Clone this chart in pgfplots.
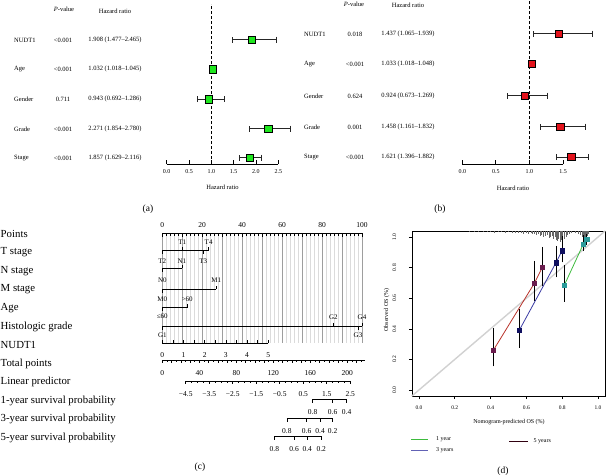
\documentclass[border=0pt]{standalone}
\usepackage{pgfplots}
\pgfplotsset{compat=1.18}
\usepackage{fontspec}
\setmainfont{Liberation Serif}
\newcommand{\fs}[1]{\fontsize{#1}{#1}\selectfont}
\definecolor{fgreen}{HTML}{1FE61F}
\definecolor{fred}{HTML}{E3121B}
\definecolor{cfive}{HTML}{B8322A}
\definecolor{cfivept}{HTML}{6A1D4E}
\definecolor{cthree}{HTML}{3B3BA3}
\definecolor{cthreept}{HTML}{101060}
\definecolor{cone}{HTML}{3DBB3D}
\definecolor{conept}{HTML}{2A9A9A}
\pgfplotsset{
  forest/.style={anchor=south west, scale only axis, height=164pt, ymin=-164, ymax=0,
    axis x line=bottom, axis y line=none, x axis line style={-, line width=0.8pt},
    tick align=inside, major tick length=4pt, every tick/.style={black, line width=0.8pt},
    xticklabel style={font=\fs{6}}, xticklabel shift=2pt,
    /pgf/number format/fixed, /pgf/number format/fixed zerofill, /pgf/number format/precision=1,
    /pgf/number format/assume math mode=true, clip=false},
  fbars/.style={error bars/.cd, x dir=both, x explicit, error bar style={black!85, line width=0.8pt},
    error mark options={black!85, line width=0.8pt, mark size=3pt, rotate=90}},
}
\newcommand{\tk}[3]{\draw[black, line width=0.6pt] (axis cs:{#1},#2) -- (axis cs:{#1},#3);}
\begin{document}
\begin{tikzpicture}
\useasboundingbox (0pt,0pt) rectangle (606pt,-475pt);
% ---------------- (a) texts
\begin{scope}[every node/.style={inner sep=0pt, font=\fs{6.5}}]
\node at (64pt,-9pt) {\textit{P}-value};
\node at (115pt,-11pt) {Hazard ratio};
\foreach \y/\n/\p/\h in {40/NUDT1/{<0.001}/{1.908 (1.477–2.465)},
  69/Age/{<0.001}/{1.032 (1.018–1.045)},
  99/Gender/{0.711}/{0.943 (0.692–1.286)},
  129/Grade/{<0.001}/{2.271 (1.854–2.780)},
  158/Stage/{<0.001}/{1.857 (1.629–2.116)}}{
  \node[anchor=west] at (14pt,-\y pt) {\n};
  \node at (63pt,-\y pt) {\p};
  \node at (115pt,-\y pt) {\h};
}
\node at (222.5pt,-187pt) {Hazard ratio};
% (b) texts
\node at (354pt,-4pt) {\textit{P}-value};
\node at (408pt,-5pt) {Hazard ratio};
\foreach \y/\n/\p/\h in {34/NUDT1/{0.018}/{1.437 (1.065–1.939)},
  64/Age/{<0.001}/{1.033 (1.018–1.048)},
  96/Gender/{0.624}/{0.924 (0.673–1.269)},
  127/Grade/{0.001}/{1.458 (1.161–1.832)},
  157/Stage/{<0.001}/{1.621 (1.396–1.882)}}{
  \node[anchor=west] at (304pt,-\y pt) {\n};
  \node at (355pt,-\y pt) {\p};
  \node at (408pt,-\y pt) {\h};
}
\node at (513pt,-188pt) {Hazard ratio};
\end{scope}
% panel labels
\begin{scope}[every node/.style={inner sep=0pt, font=\fs{9.5}}]
\node at (148pt,-209pt) {(a)};
\node at (440pt,-209pt) {(b)};
\node at (200pt,-467pt) {(c)};
\node at (503pt,-471pt) {(d)};
\end{scope}
% ---------------- (a) forest
\begin{axis}[forest, at={(166.7pt,-164pt)}, width=111.6pt, xmin=0, xmax=2.5, xtick={0,0.5,1,1.5,2,2.5}]
\addplot[black, line width=0.9pt, dash pattern=on 3pt off 2pt] coordinates {(1,-164) (1,-4)};
\addplot[only marks, mark=square*, mark size=3.7pt, mark options={fill=fgreen, draw=none}, fbars]
 coordinates {(1.908,-39.5) += (0.557,0) -= (0.431,0) (1.032,-69) += (0.013,0) -= (0.014,0)
  (0.943,-99) += (0.343,0) -= (0.251,0) (2.271,-128.5) += (0.509,0) -= (0.417,0)
  (1.857,-157.5) += (0.259,0) -= (0.228,0)};
\addplot[only marks, mark=square*, mark size=3.7pt, mark options={fill=fgreen, draw=none}]
 coordinates {(1.908,-39.5) (1.032,-69) (0.943,-99) (2.271,-128.5) (1.857,-157.5)};
\end{axis}
% ---------------- (b) forest
\begin{axis}[forest, at={(462.3pt,-164pt)}, width=100.7pt, xmin=0, xmax=1.5, xtick={0,0.5,1,1.5}]
\addplot[black, line width=0.9pt, dash pattern=on 3pt off 2pt] coordinates {(1,-164) (1,0)};
\addplot[only marks, mark=square*, mark size=3.6pt, mark options={fill=fred, draw=none}, fbars]
 coordinates {(1.437,-33.5) += (0.502,0) -= (0.372,0) (1.033,-63.5) += (0.015,0) -= (0.015,0)
  (0.924,-95.5) += (0.345,0) -= (0.251,0) (1.458,-126.5) += (0.374,0) -= (0.297,0)
  (1.621,-157) += (0.261,0) -= (0.225,0)};
\addplot[only marks, mark=square*, mark size=3.6pt, mark options={fill=fred, draw=none}]
 coordinates {(1.437,-33.5) (1.033,-63.5) (0.924,-95.5) (1.458,-126.5) (1.621,-157)};
\end{axis}
% ---------------- (c) nomogram row labels
\begin{scope}[every node/.style={inner sep=0pt, font=\fs{10.8}, anchor=west}]
\foreach \y/\t in {234/Points, 252.5/T stage, 271/N stage, 289.5/M stage, 308/Age,
  326.5/Histologic grade, 345/NUDT1, 363.5/Total points, 382/Linear predictor,
  400.5/1-year survival probability, 419/3-year survival probability, 437.5/5-year survival probability}{
  \node at (0.5pt,-\y pt) {\t};
}
\end{scope}
\begin{axis}[at={(162.3pt,-460pt)}, anchor=south west, scale only axis, width=199.7pt, height=245pt,
  xmin=0, xmax=100, ymin=-460, ymax=-215, hide axis, clip=false]
\pgfplotsinvokeforeach{0,2,...,100}{\draw[black!14, line width=0.6pt] (axis cs:#1,-233) -- (axis cs:#1,-343);}
\pgfplotsinvokeforeach{0,10,...,100}{\draw[black!38, line width=0.6pt] (axis cs:#1,-233) -- (axis cs:#1,-343);}
% Points
\addplot[black, line width=0.8pt] coordinates {(0,-233) (100,-233)};
\pgfplotsinvokeforeach{0,2,...,100}{\tk{#1}{-233}{-235.5}}
\pgfplotsinvokeforeach{0,10,...,100}{\tk{#1}{-233}{-237}}
\pgfplotsinvokeforeach{0,20,...,100}{\node[font=\fs{7.5}, inner sep=0pt] at (axis cs:#1,-225) {#1};}
% T stage
\addplot[black, line width=0.8pt] coordinates {(0,-250) (23.2,-250)};
\tk{10}{-250}{-246.5}\tk{23.2}{-250}{-246.5}\tk{0}{-250}{-253.5}\tk{20.5}{-250}{-253.5}
% N stage
\addplot[black, line width=0.8pt] coordinates {(0,-268) (9.8,-268)};
\tk{9.8}{-268}{-264.5}\tk{0}{-268}{-271.5}
% M stage
\addplot[black, line width=0.8pt] coordinates {(0,-289) (27,-289)};
\tk{27}{-289}{-285.5}\tk{0}{-289}{-292.5}
% Age
\addplot[black, line width=0.8pt] coordinates {(0,-307.5) (12.5,-307.5)};
\tk{12.5}{-307.5}{-304}\tk{0}{-307.5}{-311}
% Histologic grade
\addplot[black, line width=0.8pt] coordinates {(0,-326) (100,-326)};
\tk{85.7}{-326}{-322.5}\tk{100}{-326}{-322.5}\tk{0}{-326}{-329.5}\tk{98}{-326}{-329.5}
\begin{scope}[every node/.style={font=\fs{7}, inner sep=0pt}]
\node at (axis cs:10,-242) {T1}; \node at (axis cs:23.2,-242) {T4};
\node at (axis cs:0,-261) {T2}; \node at (axis cs:20.5,-261) {T3};
\node at (axis cs:9.8,-261) {N1}; \node at (axis cs:0,-280) {N0};
\node at (axis cs:27,-280) {M1}; \node at (axis cs:0,-299) {M0};
\node at (axis cs:12.5,-299) {>60}; \node at (axis cs:0,-316.7) {≤60};
\node at (axis cs:85.7,-317) {G2}; \node at (axis cs:100,-317) {G4};
\node at (axis cs:0,-335) {G1}; \node at (axis cs:98,-335) {G3};
\end{scope}
% NUDT1 (0..5 -> 0..53 points)
\addplot[black, line width=0.8pt] coordinates {(0,-343) (53,-343)};
\pgfplotsinvokeforeach{0,0.5,...,5}{\tk{#1*10.6}{-343}{-339.5}}
\pgfplotsinvokeforeach{0,1,...,5}{\node[font=\fs{7.5}, inner sep=0pt] at (axis cs:{#1*10.6},-355) {#1};}
% Total points (scale 0.4632 points per total point)
\addplot[black, line width=0.8pt] coordinates {(0,-360) (101.4,-360)};
\pgfplotsinvokeforeach{0,5,...,215}{\tk{#1*0.4632}{-360}{-362}}
\pgfplotsinvokeforeach{0,10,...,210}{\tk{#1*0.4632}{-360}{-363}}
\pgfplotsinvokeforeach{0,40,...,200}{\node[font=\fs{7.5}, inner sep=0pt] at (axis cs:{#1*0.4632},-373) {#1};}
% Linear predictor: x = 11.72 + (lp+4.5)*11.77
\addplot[black, line width=0.8pt] coordinates {(11.72,-381) (94.1,-381)};
\pgfplotsinvokeforeach{-4.5,-4.25,...,2.5}{\tk{11.72+(#1+4.5)*11.77}{-381}{-383}}
\pgfplotsinvokeforeach{-4.5,-3.5,...,2.5}{\tk{11.72+(#1+4.5)*11.77}{-381}{-384}}
\begin{scope}[every node/.style={font=\fs{7.5}, inner sep=0pt}]
\node at (axis cs:11.72,-394) {−4.5}; \node at (axis cs:23.49,-394) {−3.5};
\node at (axis cs:35.26,-394) {−2.5}; \node at (axis cs:47.03,-394) {−1.5};
\node at (axis cs:58.80,-394) {−0.5}; \node at (axis cs:70.57,-394) {0.5};
\node at (axis cs:82.34,-394) {1.5}; \node at (axis cs:94.11,-394) {2.5};
% 1-year
\node at (axis cs:75.3,-412) {0.8}; \node at (axis cs:85.3,-412) {0.6}; \node at (axis cs:92.3,-412) {0.4};
% 3-year
\node at (axis cs:62.4,-431) {0.8}; \node at (axis cs:72.3,-431) {0.6}; \node at (axis cs:79.0,-431) {0.4}; \node at (axis cs:85.3,-431) {0.2};
% 5-year
\node at (axis cs:56.1,-449) {0.8}; \node at (axis cs:66.0,-449) {0.6}; \node at (axis cs:72.6,-449) {0.4}; \node at (axis cs:79.6,-449) {0.2};
\end{scope}
\addplot[black, line width=0.8pt] coordinates {(75.3,-399) (92.3,-399)};
\tk{75.3}{-399}{-402.5}\tk{85.3}{-399}{-402.5}\tk{92.3}{-399}{-402.5}
\addplot[black, line width=0.8pt] coordinates {(62.4,-418) (85.3,-418)};
\tk{62.4}{-418}{-421.5}\tk{72.3}{-418}{-421.5}\tk{79.0}{-418}{-421.5}\tk{85.3}{-418}{-421.5}
\addplot[black, line width=0.8pt] coordinates {(56.1,-436) (79.6,-436)};
\tk{56.1}{-436}{-439.5}\tk{66.0}{-436}{-439.5}\tk{72.6}{-436}{-439.5}\tk{79.6}{-436}{-439.5}
\end{axis}
% ---------------- (d) calibration
\begin{axis}[at={(411.8pt,-396.1pt)}, anchor=south west, scale only axis, width=193.4pt, height=165.2pt,
  xmin=-0.04, xmax=1.04, ymin=-0.04, ymax=1.04,
  xtick={0,0.2,0.4,0.6,0.8,1.0}, ytick={0,0.2,0.4,0.6,0.8,1.0},
  tick pos=left, tick align=outside, major tick length=3pt,
  axis line style={line width=0.6pt}, every tick/.style={black, line width=0.6pt},
  tick label style={font=\fs{5.5}},
  yticklabel style={rotate=90, anchor=south}, yticklabel shift=9pt, xticklabel shift=3pt,
  /pgf/number format/fixed, /pgf/number format/fixed zerofill, /pgf/number format/precision=1,
  /pgf/number format/assume math mode=true, clip=false, unbounded coords=jump]
\addplot[black!18, line width=1.4pt] coordinates {(-0.04,-0.04) (1.04,1.04)};
% rug of predicted values hanging from the top edge (1.04)
\addplot[black!60, line width=0.5pt] coordinates {
 (0.28,1.04) (0.28,1.033) (0.28,nan) (0.31,1.04) (0.31,1.033) (0.31,nan)
 (0.33,1.04) (0.33,1.030) (0.33,nan) (0.36,1.04) (0.36,1.033) (0.36,nan)
 (0.38,1.04) (0.38,1.030) (0.38,nan) (0.40,1.04) (0.40,1.033) (0.40,nan)
 (0.42,1.04) (0.42,1.027) (0.42,nan) (0.44,1.04) (0.44,1.030) (0.44,nan)
 (0.46,1.04) (0.46,1.033) (0.46,nan) (0.48,1.04) (0.48,1.027) (0.48,nan)
 (0.50,1.04) (0.50,1.030) (0.50,nan) (0.52,1.04) (0.52,1.027) (0.52,nan)
 (0.54,1.04) (0.54,1.027) (0.54,nan) (0.555,1.04) (0.555,1.024) (0.555,nan)
 (0.57,1.04) (0.57,1.027) (0.57,nan) (0.585,1.04) (0.585,1.020) (0.585,nan)
 (0.60,1.04) (0.60,1.024) (0.60,nan) (0.61,1.04) (0.61,1.020) (0.61,nan)
 (0.625,1.04) (0.625,1.027) (0.625,nan) (0.635,1.04) (0.635,1.017) (0.635,nan)
 (0.645,1.04) (0.645,1.020) (0.645,nan) (0.655,1.04) (0.655,1.014) (0.655,nan)
 (0.665,1.04) (0.665,1.020) (0.665,nan) (0.675,1.04) (0.675,1.007) (0.675,nan)
 (0.685,1.04) (0.685,1.014) (0.685,nan) (0.695,1.04) (0.695,1.001) (0.695,nan)
 (0.705,1.04) (0.705,1.007) (0.705,nan) (0.715,1.04) (0.715,1.014) (0.715,nan)
 (0.725,1.04) (0.725,0.994) (0.725,nan) (0.735,1.04) (0.735,1.001) (0.735,nan)
 (0.745,1.04) (0.745,1.007) (0.745,nan) (0.75,1.04) (0.75,0.988) (0.75,nan)
 (0.76,1.04) (0.76,1.001) (0.76,nan) (0.765,1.04) (0.765,0.981) (0.765,nan)
 (0.775,1.04) (0.775,0.975) (0.775,nan) (0.78,1.04) (0.78,0.988) (0.78,nan)
 (0.79,1.04) (0.79,0.968) (0.79,nan) (0.795,1.04) (0.795,0.981) (0.795,nan)
 (0.80,1.04) (0.80,0.962) (0.80,nan) (0.81,1.04) (0.81,0.988) (0.81,nan)
 (0.82,1.04) (0.82,1.001) (0.82,nan) (0.83,1.04) (0.83,1.014) (0.83,nan)
 (0.84,1.04) (0.84,1.020) (0.84,nan) (0.85,1.04) (0.85,1.027) (0.85,nan)
 (0.87,1.04) (0.87,1.027) (0.87,nan) (0.89,1.04) (0.89,1.020) (0.89,nan)
 (0.90,1.04) (0.90,1.014) (0.90,nan) (0.91,1.04) (0.91,1.001) (0.91,nan)
 (0.915,1.04) (0.915,0.988) (0.915,nan) (0.92,1.04) (0.92,0.975) (0.92,nan)
 (0.925,1.04) (0.925,0.962) (0.925,nan) (0.93,1.04) (0.93,0.975) (0.93,nan)
 (0.935,1.04) (0.935,0.988) (0.935,nan) (0.94,1.04) (0.94,1.007) (0.94,nan)
 (0.945,1.04) (0.945,1.020)};
% 5 years
\addplot[cfive, line width=0.8pt] coordinates {(0.415,0.259) (0.644,0.697) (0.689,0.802)};
\addplot[only marks, mark=square*, mark size=2.2pt, mark options={fill=cfivept, draw=cfivept},
  error bars/.cd, y dir=both, y explicit, error bar style={black, line width=0.8pt},
  error mark options={black, line width=0.8pt, mark size=2.5pt}]
  coordinates {(0.415,0.259) += (0,0.127) -= (0,0.089) (0.644,0.697) += (0,0.131) -= (0,0.102)
   (0.689,0.802) += (0,0.118) -= (0,0.105)};
% 3 years
\addplot[cthree, line width=0.8pt] coordinates {(0.560,0.390) (0.765,0.832) (0.799,0.910)};
\addplot[only marks, mark=square*, mark size=2.2pt, mark options={fill=cthreept, draw=cthreept},
  error bars/.cd, y dir=both, y explicit, error bar style={black, line width=0.8pt},
  error mark options={black, line width=0.8pt, mark size=2.5pt}]
  coordinates {(0.560,0.390) += (0,0.126) -= (0,0.096) (0.765,0.832) += (0,0.094) -= (0,0.080)
   (0.799,0.910) += (0,0.083) -= (0,0.060)};
% 1 year
\addplot[cone, line width=0.8pt] coordinates {(0.812,0.686) (0.918,0.954) (0.937,0.985)};
\addplot[only marks, mark=square*, mark size=2.2pt, mark options={fill=conept, draw=conept},
  error bars/.cd, y dir=both, y explicit, error bar style={black, line width=0.8pt},
  error mark options={black, line width=0.8pt, mark size=2.5pt}]
  coordinates {(0.812,0.686) += (0,0.114) -= (0,0.093) (0.918,0.954) += (0,0.040) -= (0,0.030)
   (0.937,0.985) += (0,0.018) -= (0,0.020)};
\end{axis}
% calibration labels and legend
\begin{scope}[every node/.style={inner sep=0pt, font=\fs{6}}]
\node at (509pt,-422.3pt) {Nomogram-predicted OS (\%)};
\node[rotate=90] at (386.7pt,-310pt) {Observed OS (\%)};
\draw[cone, line width=0.8pt] (411pt,-439.3pt) -- (427.7pt,-439.3pt);
\node[anchor=west] at (436pt,-439.3pt) {1 year};
\draw[cthree!80, line width=0.8pt] (411pt,-450.5pt) -- (427.7pt,-450.5pt);
\node[anchor=west] at (436pt,-450.5pt) {3 years};
\draw[black!75!purple, line width=0.8pt] (509pt,-441pt) -- (527.7pt,-441pt);
\node[anchor=west] at (533.5pt,-441pt) {5 years};
\end{scope}
\end{tikzpicture}
\end{document}
